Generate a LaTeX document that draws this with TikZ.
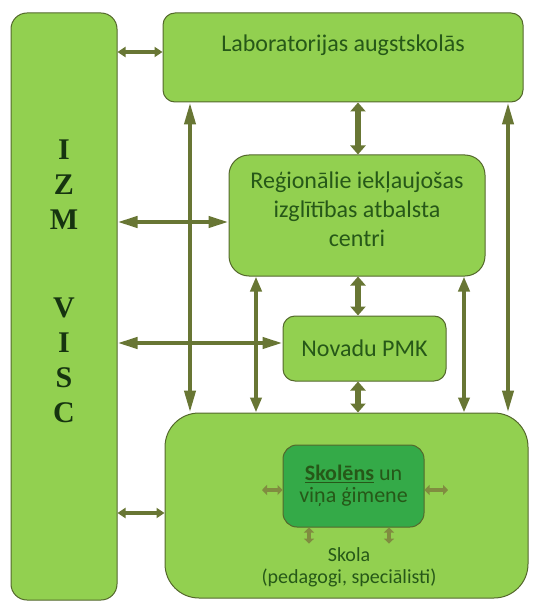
\documentclass[tikz,border=0pt]{standalone}
\usepackage{fontspec}
\setmainfont{Carlito}
\newfontfamily\izmfont{Liberation Serif}
\usetikzlibrary{arrows.meta}

\definecolor{boxfill}{RGB}{146,208,80}
\definecolor{boxline}{RGB}{84,104,44}
\definecolor{kidfill}{RGB}{52,170,72}
\definecolor{linkcol}{RGB}{104,118,52}
\definecolor{tinycol}{RGB}{128,140,64}
\definecolor{txtcol}{RGB}{38,88,24}
\definecolor{izmcol}{RGB}{22,52,16}

\tikzset{every picture/.style={line width=0.75pt}}
\tikzset{
  box/.style={draw=boxline, fill=boxfill, line width=1pt, rounded corners=#1, inner sep=2pt},
  box/.default=12,
  txt/.style={text=txtcol, align=center, font=\fontsize{24}{29}\selectfont},
  link/.style={draw=linkcol, line width=4pt, {Triangle[length=#1,width=11pt]}-{Triangle[length=#1,width=11pt]}},
  link/.default=22pt,
  fatlink/.style={draw=linkcol, line width=6pt, {Triangle[length=9pt,width=15pt]}-{Triangle[length=9pt,width=15pt]}},
  shortlink/.style={draw=linkcol, line width=4pt, {Triangle[length=8pt,width=10pt]}-{Triangle[length=8pt,width=10pt]}},
  tinylink/.style={draw=tinycol, line width=4.5pt, {Triangle[length=5pt,width=10pt]}-{Triangle[length=5pt,width=10pt]}}
}

\begin{document}
\begin{tikzpicture}[x=1pt,y=1pt,yscale=-1,xscale=1]
\useasboundingbox (0,0) rectangle (533,604);

%Shape: Rounded Rect
\node [box=16, minimum width=106, minimum height=587] (izm) at (64,306.5) {};
\node [box=12, minimum width=360, minimum height=89] (lab) at (343,57.5) {};
\node [box=20, minimum width=256, minimum height=121, txt, text depth=12pt] (reg) at (357,215.5) {Reģionālie iekļaujošas\\izglītības atbalsta\\centri};
\node [box=12, minimum width=163, minimum height=65, txt] (nov) at (364.5,348.5) {Novadu PMK};
\node [box=34, minimum width=363, minimum height=185] (skola) at (346.5,505.5) {};
\node [box=14, fill=kidfill, minimum width=141, minimum height=82, txt, font=\fontsize{22}{22}\selectfont] (kid) at (353.5,486) {\textbf{\underline{Skolēns}} un\\viņa ģimene};

% Text Node
\node [text=izmcol, align=center, font=\izmfont\bfseries\fontsize{30}{35}\selectfont] (izmtxt) at (64,281) {I\\Z\\M\\[53pt]V\\I\\S\\C};
\node [txt] (labtxt) at (343,45) {Laboratorijas augstskolās};
\node [txt, font=\fontsize{20}{22}\selectfont] (skolatxt) at (349,567) {Skola\\(pedagogi, speciālisti)};

%Arrow columns and rows
\coordinate (c1) at (190,0);
\coordinate (c2) at (358,0);
\coordinate (c3) at (256,0);
\coordinate (c4) at (464,0);
\coordinate (c5) at (508,0);
\coordinate (r1) at (0,52);
\coordinate (r2) at (0,222);
\coordinate (r3) at (0,343);
\coordinate (r4) at (0,513);
\coordinate (kl) at (262,490);
\coordinate (kr) at (448,490);
\coordinate (kb1) at (309,0);
\coordinate (kb2) at (389,0);

%Straight Lines
\draw [link] (lab.south -| c1) -- (skola.north -| c1);
\draw [link] (lab.south -| c5) -- (skola.north -| c5);
\draw [link=15pt] (reg.south -| c3) -- (skola.north -| c3);
\draw [link=15pt] (reg.south -| c4) -- (skola.north -| c4);
\draw [fatlink] (lab.south -| c2) -- (reg.north -| c2);
\draw [fatlink] (reg.south -| c2) -- (nov.north -| c2);
\draw [fatlink] (nov.south -| c2) -- (skola.north -| c2);
\draw [shortlink] (izm.east |- r1) -- (lab.west |- r1);
\draw [link=20pt] (izm.east |- r2) -- (reg.west |- r2);
\draw [link=20pt] (izm.east |- r3) -- (nov.west |- r3);
\draw [shortlink] (izm.east |- r4) -- (skola.west |- r4);
\draw [tinylink] (kl) -- (kid.west |- kl);
\draw [tinylink] (kid.east |- kr) -- (kr);
\draw [tinylink] (kid.south -| kb1) -- (skolatxt.north -| kb1);
\draw [tinylink] (kid.south -| kb2) -- (skolatxt.north -| kb2);

\end{tikzpicture}
\end{document}
